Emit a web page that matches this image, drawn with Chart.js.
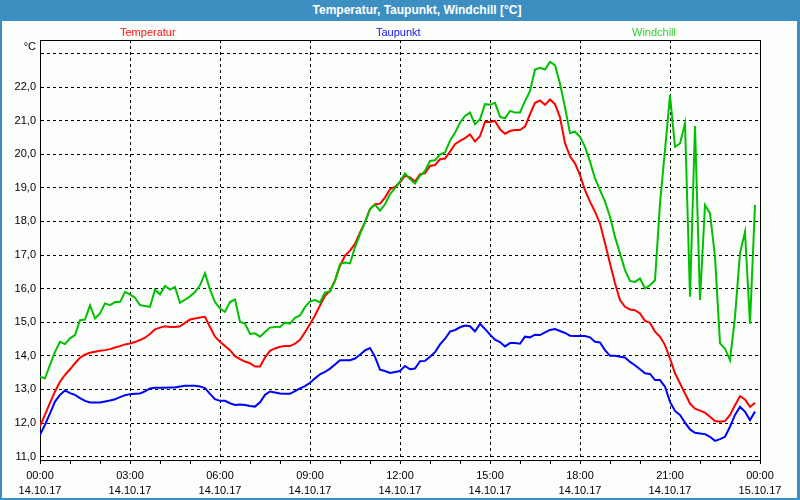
<!DOCTYPE html>
<html><head><meta charset="utf-8">
<script src="https://cdn.jsdelivr.net/npm/chart.js@4.4.1/dist/chart.umd.min.js"></script>
<style>
html,body{margin:0;padding:0;}
body{width:800px;height:500px;position:relative;background:#3d8fc2;overflow:hidden;font-family:"Liberation Sans",Arial,sans-serif;}
#title{position:absolute;left:0;top:0;width:834px;height:21px;line-height:20px;text-align:center;color:#fff;font-weight:bold;font-size:12px;}
#panel{position:absolute;left:2px;top:21px;width:795px;height:477px;background:#fcfefc;}
#c{position:absolute;left:0;top:0;}
</style></head>
<body>
<div id="title">Temperatur, Taupunkt, Windchill [°C]</div>
<div id="panel"></div>
<canvas id="c" width="800" height="500"></canvas>
<script>
// ---- data ----
const seriesNames = ['Temperatur', 'Taupunkt', 'Windchill'];
const stepMinutes = 10; // one reading every 10 minutes, from 00:00 14.10.17

const temperatur = [11.9,12.25,12.6,12.94,13.23,13.43,13.6,13.78,13.94,14.04,14.09,14.12,
 14.15,14.17,14.2,14.25,14.29,14.34,14.37,14.41,14.47,14.54,14.65,14.79,
 14.84,14.88,14.86,14.86,14.88,14.98,15.08,15.11,15.14,15.16,14.86,14.57,
 14.42,14.29,14.17,13.99,13.9,13.83,13.78,13.68,13.68,13.95,14.15,14.22,
 14.27,14.29,14.29,14.36,14.48,14.7,14.95,15.2,15.5,15.79,15.94,16.24,
 16.68,16.98,17.13,17.33,17.67,17.97,18.37,18.51,18.53,18.71,18.96,19.03,
 19.16,19.36,19.31,19.19,19.41,19.43,19.65,19.68,19.85,19.87,20.08,20.3,
 20.4,20.48,20.59,20.38,20.54,20.96,20.96,20.99,20.74,20.61,20.69,20.72,
 20.72,20.82,21.19,21.53,21.6,21.47,21.63,21.49,21.1,20.33,19.94,19.73,
 19.38,18.93,18.59,18.29,17.94,17.35,16.75,16.16,15.66,15.46,15.38,15.36,
 15.26,15.04,14.98,14.72,14.57,14.32,13.92,13.48,13.18,12.88,12.58,12.43,
 12.37,12.31,12.19,12.06,12.04,12.06,12.24,12.53,12.8,12.7,12.48,12.6];

const taupunkt = [11.65,11.95,12.29,12.64,12.84,12.97,12.89,12.84,12.74,12.66,12.61,12.61,
 12.61,12.64,12.67,12.71,12.77,12.83,12.86,12.87,12.88,12.94,13.03,13.05,
 13.05,13.05,13.06,13.06,13.09,13.11,13.11,13.11,13.09,13.04,12.87,12.71,
 12.66,12.66,12.59,12.54,12.55,12.54,12.51,12.49,12.62,12.84,12.94,12.91,
 12.88,12.87,12.87,12.95,13.03,13.1,13.2,13.33,13.45,13.52,13.62,13.74,
 13.87,13.87,13.87,13.92,14.03,14.16,14.23,13.97,13.59,13.55,13.49,13.52,
 13.55,13.7,13.6,13.62,13.84,13.85,13.97,14.11,14.34,14.51,14.72,14.77,
 14.85,14.9,14.88,14.73,14.95,14.8,14.63,14.48,14.41,14.28,14.38,14.38,
 14.36,14.57,14.55,14.63,14.62,14.7,14.77,14.8,14.74,14.68,14.6,14.59,
 14.59,14.59,14.55,14.42,14.4,14.17,14.0,14.0,13.97,13.95,13.82,13.72,
 13.6,13.48,13.46,13.28,13.28,13.08,12.63,12.36,12.24,12.01,11.81,11.71,
 11.69,11.67,11.59,11.47,11.52,11.59,11.89,12.24,12.48,12.34,12.09,12.34];

const windchill = [13.38,13.33,13.73,14.12,14.42,14.35,14.52,14.62,15.06,15.08,15.5,15.11,
 15.26,15.56,15.51,15.6,15.6,15.9,15.83,15.73,15.51,15.48,15.46,15.97,
 15.83,16.08,15.97,16.05,15.58,15.67,15.77,15.9,16.1,16.46,15.97,15.6,
 15.41,15.31,15.6,15.68,15.01,14.96,14.65,14.67,14.57,14.71,14.84,14.86,
 14.86,14.99,14.96,15.13,15.2,15.45,15.62,15.66,15.59,15.89,15.91,16.24,
 16.73,16.78,16.75,17.23,17.62,17.97,18.37,18.5,18.32,18.51,18.81,18.99,
 19.19,19.43,19.26,19.13,19.36,19.5,19.8,19.82,20.0,20.05,20.4,20.64,
 20.94,21.14,21.24,20.89,21.04,21.49,21.47,21.53,21.11,21.07,21.29,21.24,
 21.24,21.58,21.88,22.52,22.57,22.52,22.75,22.65,22.1,21.4,20.63,20.67,
 20.52,20.22,19.78,19.28,18.93,18.59,18.14,17.54,17.05,16.55,16.23,16.2,
 16.3,16.01,16.1,16.25,18.54,20.12,21.76,20.22,20.32,20.92,15.76,20.84,
 15.66,18.49,18.24,16.95,14.37,14.22,13.87,15.16,17.05,17.69,14.96,18.49];

const yTickValues = [11,12,13,14,15,16,17,18,19,20,21,22,23];
const xTickMinutes = [0,60,120,180,240,300,360,420,480,540,600,660,720,780,840,900,960,1020,1080,1140,1200,1260,1320,1380,1440];
const xMajorMinutes = [0,180,360,540,720,900,1080,1260,1440];
const xTimeLabels = ['00:00','03:00','06:00','09:00','12:00','15:00','18:00','21:00','00:00'];
const xDateLabels = ['14.10.17','14.10.17','14.10.17','14.10.17','14.10.17','14.10.17','14.10.17','14.10.17','15.10.17'];
const yUnit = '°C';

// ---- styles ----
const FONT = '"Liberation Sans", Arial, sans-serif';
const lineColors = ['#ff0000', '#0000ff', '#00c000'];
const legendColors = ['#ff1010', '#1010ff', '#30d030'];
const legendX = [120, 376, 632];

const toPoints = arr => arr.map((v, i) => ({x: i * stepMinutes, y: v}));
const seriesValues = [temperatur, taupunkt, windchill];

const overlay = {
  id: 'overlay',
  afterDraw(chart) {
    const {ctx, chartArea: a} = chart;
    ctx.save();
    ctx.strokeStyle = '#000';
    ctx.lineWidth = 1;
    ctx.setLineDash([]);
    ctx.beginPath();
    ctx.moveTo(a.left, a.top + 0.5); ctx.lineTo(a.right + 1, a.top + 0.5);
    ctx.moveTo(a.right + 0.5, a.top); ctx.lineTo(a.right + 0.5, a.bottom + 1);
    ctx.stroke();
    ctx.font = '11px ' + FONT;
    ctx.textBaseline = 'alphabetic';
    ctx.textAlign = 'left';
    seriesNames.forEach((n, i) => { ctx.fillStyle = legendColors[i]; ctx.fillText(n, legendX[i], 36); });
    ctx.textAlign = 'right';
    ctx.fillStyle = '#000';
    ctx.fillText(yUnit, a.left - 4, 50);
    ctx.restore();
  }
};

new Chart(document.getElementById('c'), {
  type: 'line',
  data: {
    datasets: seriesNames.map((name, i) => ({
      label: name,
      data: toPoints(seriesValues[i]),
      borderColor: lineColors[i],
      backgroundColor: lineColors[i],
      borderWidth: 2,
      pointRadius: 0,
      tension: 0,
      fill: false,
      order: 3 - i
    }))
  },
  options: {
    responsive: false,
    animation: false,
    layout: {padding: {left: 0, top: 40, right: 40, bottom: 0}},
    plugins: {legend: {display: false}, title: {display: false}, tooltip: {enabled: false}},
    scales: {
      x: {
        type: 'linear', min: 0, max: 1440,
        afterBuildTicks: s => { s.ticks = xTickMinutes.map(v => ({value: v})); },
        afterFit: s => { s.height = 40; },
        ticks: {
          autoSkip: false, maxRotation: 0, minRotation: 0, padding: 4, color: '#000',
          font: {family: FONT, size: 11, lineHeight: '15px'},
          callback: v => { const k = xMajorMinutes.indexOf(v); return k < 0 ? '' : [xTimeLabels[k], xDateLabels[k]]; }
        },
        grid: {
          color: c => (c.tick && xMajorMinutes.indexOf(c.tick.value) >= 0) ? '#000' : 'rgba(0,0,0,0)',
          tickColor: '#000', tickLength: 4, lineWidth: 1, drawTicks: true
        },
        border: {display: true, color: '#000', width: 1, dash: [3, 3]}
      },
      y: {
        min: 10.9, max: 23.4,
        afterBuildTicks: s => { s.ticks = yTickValues.map(v => ({value: v})); },
        afterFit: s => { s.width = 40; },
        ticks: {
          padding: 4, color: '#000', font: {family: FONT, size: 11},
          callback: v => v === 23 ? '' : v.toFixed(1).replace('.', ',')
        },
        grid: {color: '#000', drawTicks: false, lineWidth: 1},
        border: {display: true, color: '#000', width: 1, dash: [3, 3]}
      }
    }
  },
  plugins: [overlay]
});
</script>
</body></html>
